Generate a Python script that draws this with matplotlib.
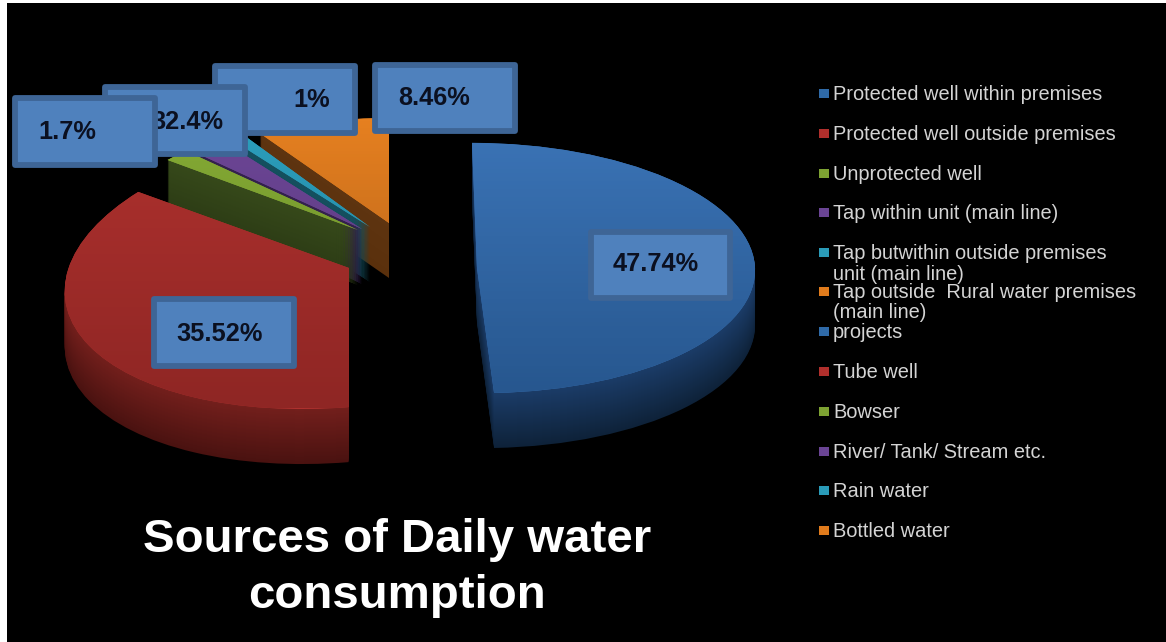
import numpy as np
import matplotlib
matplotlib.use('Agg')
import matplotlib.pyplot as plt
from matplotlib.colors import to_rgb
from matplotlib.patches import Rectangle
from matplotlib.transforms import Affine2D

plt.rcParams['font.family'] = ['Liberation Sans', 'DejaVu Sans']

slices = ['Protected well within premises', 'Protected well outside premises', 'Unprotected well',
          'Tap within unit (main line)', 'Tap but outside premises', 'Tap outside Rural water premises']
values = [47.74, 35.52, 1.7, 2.4, 1, 8.46]
label_texts = ['47.74%', '35.52%', '1.7%', '32.4%', '1%', '8.46%']

legend_labels = ['Protected well within premises', 'Protected well outside premises', 'Unprotected well',
                 'Tap within unit (main line)', 'Tap butwithin outside premises\nunit (main line)',
                 'Tap outside  Rural water premises\n(main line)', 'projects', 'Tube well', 'Bowser',
                 'River/ Tank/ Stream etc.', 'Rain water', 'Bottled water']
legend_colors = ['#2f6aa8', '#b02f2c', '#7da232', '#6a4494', '#2a9bb8', '#e07b1c'] * 2

top_light = ['#3a72b4', '#ae312e', '#85ab35', '#6d4696', '#2c9fbd', '#e68020']
top_dark = ['#27578f', '#8f2624', '#6f9029', '#5a3a80', '#22859f', '#b8651a']
side_light = ['#1b3c68', '#731f1c', '#36491a', '#33214d', '#14505f', '#5e3410']
side_dark = ['#0e2239', '#4a1210', '#2b3a14', '#2a1a40', '#10434f', '#5a300c']

# apex position in picture pixels, radius, vertical squash, x shear, y tilt
layout = {
    0: (477, 268, 278, 0.45, -0.018, 0),
    1: (349, 268, 284, 0.493, 0.045, 0.06),
    2: (358, 230, 247, 0.445, 0, 0),
    3: (362, 229, 247, 0.445, 0, 0),
    4: (370, 227, 247, 0.445, 0, 0),
    5: (389, 223, 247, 0.425, 0, 0),
}
depth = 55
draw_order = [5, 4, 3, 2, 1, 0]

W, H = 1166, 642
fig = plt.figure(figsize=(W / 100, H / 100), dpi=100, facecolor='white')
ax = fig.add_axes([0, 0, 1, 1])


def slice_transform(i, drop=0):
    cx, cy, r, squash, shear, tilt = layout[i]
    m = Affine2D.from_values(1, tilt, shear, squash, cx, H - cy - drop)
    return m + ax.transData


def blend(a, b, t):
    a, b = np.array(to_rgb(a)), np.array(to_rgb(b))
    return tuple(a + (b - a) * t)


total = sum(values)
starts = np.cumsum([0] + values[:-1]) / total
z = 2
for i in draw_order:
    frac = values[i] / total
    r = layout[i][2]
    start = 90 - starts[i] * 360
    # side wall, stack of copies going down
    for d in range(depth, 0, -1):
        w, _ = ax.pie([frac], normalize=False, radius=r, startangle=start, counterclock=False,
                      colors=[blend(side_light[i], side_dark[i], d / depth)])
        w[0].set_transform(slice_transform(i, d))
        w[0].set_zorder(z)
        z += 1
    # top face with a soft vertical gradient
    w, _ = ax.pie([frac], normalize=False, radius=r, startangle=start, counterclock=False, colors=[top_light[i]])
    w[0].set_transform(slice_transform(i))
    w[0].set_zorder(z)
    z += 1
    cols = np.array([blend(top_light[i], top_dark[i], t) for t in np.linspace(0, 1, 64)])[:, None, :]
    cy = layout[i][1]
    ry = r * layout[i][3]
    im = ax.imshow(cols, extent=[0, W, H - cy - ry, H - cy + ry], aspect='auto', zorder=z, origin='upper')
    im.set_clip_path(w[0])
    z += 1

ax.set_aspect('auto')
ax.set_xlim(0, W)
ax.set_ylim(0, H)
ax.set_axis_off()

# black slide behind everything, white strip stays on the left and top
ax.add_patch(Rectangle((7, 0), W - 7, H - 3, facecolor='black', edgecolor='none', zorder=1))

# data label boxes: left, top, right, bottom in pixels, text centre
boxes = [
    (588, 229, 733, 301, 656, 264),
    (151, 296, 297, 369, 220, 334),
    (12, 95, 158, 168, 67, 132),
    (102, 84, 248, 157, 187, 122),
    (212, 63, 358, 136, 312, 100),
    (372, 62, 518, 134, 434, 98),
]
box_z = {0: 500, 1: 500, 2: 530, 3: 520, 4: 510, 5: 500}
for i, (x0, y0, x1, y1, tx, ty) in enumerate(boxes):
    z0 = box_z[i]
    ax.add_patch(Rectangle((x0 + 3, H - y1 + 3), x1 - x0 - 6, y1 - y0 - 6, facecolor='#4f81bd',
                           edgecolor='#3e6596', linewidth=4.2, joinstyle='round', zorder=z0))
    ax.text(tx, H - ty, label_texts[i], ha='center', va='center', fontsize=18.3, fontweight='bold',
            color='#0b1020', zorder=z0 + 1)

# legend
row_y = [93, 133, 173, 212, 252, 291, 331, 371, 411, 451, 490, 530]
for y, lab, col in zip(row_y, legend_labels, legend_colors):
    ax.add_patch(Rectangle((819, H - y - 5), 10, 9, facecolor=col, edgecolor='none', zorder=600))
    ax.text(833, H - y + 8, lab, ha='left', va='top', fontsize=14.4, color='#d4d4d4', linespacing=1.1, zorder=600)

ax.text(397, H - 568, 'Sources of Daily water\nconsumption', ha='center', va='center', fontsize=34.1,
        fontweight='bold', color='white', linespacing=1.36, zorder=600)

fig.savefig('out.png', dpi=100, facecolor='white')
